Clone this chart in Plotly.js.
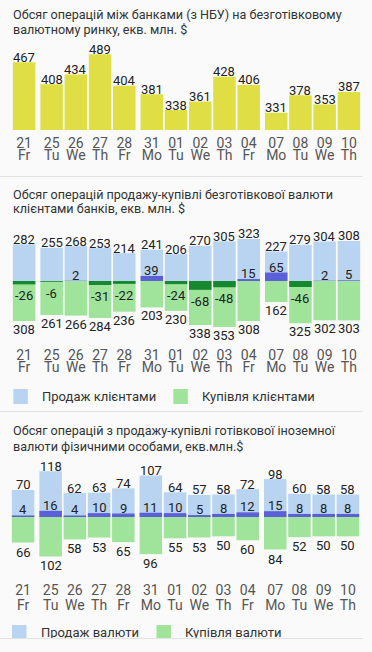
<!DOCTYPE html>
<html><head><meta charset="utf-8">
<script src="https://cdn.plot.ly/plotly-3.0.1.min.js"></script>
<style>
html,body{margin:0;padding:0;background:#fafafa;width:372px;height:652px;overflow:hidden;}
.panel{position:absolute;left:0;width:372px;overflow:hidden;}
#p1{top:0;height:176px;}
#p2{top:177px;height:234px;}
#p3{top:412px;height:240px;}
.sep{position:absolute;left:0;width:363px;height:1px;background:#e2e2e2;z-index:5;}
#cover{position:absolute;left:0;top:639px;width:372px;height:13px;background:#fafafa;z-index:4;}
</style></head>
<body>
<div id="p1" class="panel"></div>
<div class="sep" style="top:176px"></div>
<div id="p2" class="panel"></div>
<div class="sep" style="top:411px"></div>
<div id="p3" class="panel"></div>
<div id="cover"></div>
<div class="sep" style="top:638px"></div>
<script>
// ---- data ----
const dayNums  = ['21','25','26','27','28','31','01','02','03','04','07','08','09','10'];
const dayNames = ['Fr','Tu','We','Th','Fr','Mo','Tu','We','Th','Fr','Mo','Tu','We','Th'];
const interbank = [467,408,434,489,404,381,338,361,428,406,331,378,353,387];
const clientSale = [282,255,268,253,214,241,206,270,305,323,227,279,304,308];
const clientPurchase = [308,261,266,284,236,203,230,338,353,308,162,325,302,303];
const clientNet = [-26,-6,2,-31,-22,39,-24,-68,-48,15,65,-46,2,5];
const cashSale = [70,118,62,63,74,107,64,57,58,72,98,60,58,58];
const cashPurchase = [66,102,58,53,65,96,55,53,50,60,84,52,50,50];
const cashNet = [4,16,4,10,9,11,10,5,8,12,15,8,8,8];
const titles1 = ['Обсяг операцій між банками (з НБУ) на безготівковому','валютному ринку, екв. млн. $'];
const titles2 = ['Обсяг операцій продажу-купівлі безготівкової валюти','клієнтами банків, екв. млн. $'];
const titles3 = ['Обсяг операцій з продажу-купівлі готівкової іноземної','валюти фізичними особами, екв.млн.$'];
const clientLegend = ['Продаж клієнтами','Купівля клієнтами'];
const cashLegend = ['Продаж валюти','Купівля валюти'];

// ---- style ----
const W = 372;
const WEEK_GAP = 0.137, BAR_W = 0.93;
const FONT = 'Roboto, "Noto Sans", sans-serif';
const C = {inter:'#dfdf45', sale:'#b9d4f1', purchase:'#a0e49b', netPos:'#5b5fd8', netNeg:'#16892e',
           text:'#222222', tick:'#555555', title:'#333333'};
const TITLE_SIZE = 12.6, LEGEND_SIZE = 13;

// x positions: extra gap between weeks (derived from weekday order)
const ord = {Mo:0,Tu:1,We:2,Th:3,Fr:4,Sa:5,Su:6};
const xPos = []; let wk = 0;
dayNames.forEach((d,i)=>{ if(i>0 && ord[d] <= ord[dayNames[i-1]]) wk++; xPos.push(i + WEEK_GAP*wk); });
const xRange = [-0.5, xPos[xPos.length-1] + 0.5];

function baseLayout(H, m, yrange, titles, tY1, tY2, numLen, nameLen) {
  const pw = W - m.l - m.r, ph = H - m.t - m.b;
  const px = x => (x - m.l)/pw, py = y => (H - m.b - y)/ph;
  const ax = {range:xRange, showgrid:false, zeroline:false, showline:false, ticks:'outside',
              tickcolor:'rgba(0,0,0,0)', tickvals:xPos, fixedrange:true};
  return {
    px, py,
    layout: {
      width:W, height:H, margin:m, paper_bgcolor:'rgba(0,0,0,0)', plot_bgcolor:'rgba(0,0,0,0)',
      font:{family:FONT, color:C.text},
      showlegend:false, barmode:'overlay', hovermode:false,
      title:{text:titles[0], x:13/W, xanchor:'left', xref:'container', yref:'container',
             y:1 - tY1/H, yanchor:'middle', font:{family:FONT, size:TITLE_SIZE, color:C.title}},
      xaxis:Object.assign({}, ax, {ticktext:dayNums, ticklen:numLen, tickfont:{family:FONT,size:14,color:C.tick}}),
      xaxis2:Object.assign({}, ax, {ticktext:dayNames, overlaying:'x', anchor:'y', side:'bottom', ticklen:nameLen,
              tickfont:{family:FONT,size:14,color:C.tick}}),
      yaxis:{range:yrange, visible:false, fixedrange:true},
      annotations:[{text:titles[1], xref:'paper', yref:'paper', x:px(10.5), y:py(tY2), xanchor:'left',
                    yanchor:'middle', showarrow:false, font:{family:FONT,size:TITLE_SIZE,color:C.title}}],
      shapes:[]
    }
  };
}
function lbl(x, y, text, anchor, shift) {
  return {x, y, text:String(text), xref:'x', yref:'y', showarrow:false, yanchor:anchor, yshift:shift,
          font:{family:FONT, size:13, color:C.text}};
}
const dummy = {type:'scatter', x:[], y:[], xaxis:'x2', yaxis:'y', hoverinfo:'skip', showlegend:false};
const cfg = {staticPlot:true, displayModeBar:false};

// ---- panel 1 ----
(function(){
  const H = 176, m = {l:12, r:11, t:40, b:46};
  const {layout} = baseLayout(H, m, [284, 527.5], titles1, 15, 29.3, 0, 12.5);
  interbank.forEach((v,i)=>layout.annotations.push(lbl(xPos[i], v, v, 'bottom', -4.5)));
  Plotly.newPlot('p1', [
    {type:'bar', x:xPos, y:interbank, width:BAR_W, marker:{color:C.inter}, name:'interbank'},
    dummy
  ], layout, cfg);
})();

function twoSided(id, H, m, yrange, titles, tY1, tY2, numLen, nameLen, sale, purchase, net, legend, leg, shifts) {
  const {layout, px, py} = baseLayout(H, m, yrange, titles, tY1, tY2, numLen, nameLen);
  sale.forEach((v,i)=>layout.annotations.push(lbl(xPos[i], v, v, 'bottom', shifts.sale)));
  purchase.forEach((v,i)=>layout.annotations.push(lbl(xPos[i], -v, v, 'top', shifts.purchase)));
  net.forEach((v,i)=>layout.annotations.push(
      v < 0 ? lbl(xPos[i], v, v, 'top', shifts.netNeg) : lbl(xPos[i], v, v, 'bottom', shifts.netPos)));
  // legend (drawn as shapes + text)
  const cols = [C.sale, C.purchase];
  legend.forEach((name,k)=>{
    layout.shapes.push({type:'rect', xref:'paper', yref:'paper', x0:px(leg.sq[k][0]), x1:px(leg.sq[k][1]),
      y0:py(leg.y0), y1:py(leg.y1), fillcolor:cols[k], line:{width:0}, layer:'above'});
    layout.annotations.push({text:name, xref:'paper', yref:'paper', x:px(leg.tx[k]), y:py(leg.ty),
      xanchor:'left', yanchor:'middle', showarrow:false, font:{family:FONT,size:LEGEND_SIZE,color:C.title}});
  });
  Plotly.newPlot(id, [
    {type:'bar', x:xPos, y:sale, width:BAR_W, marker:{color:C.sale}, name:legend[0]},
    {type:'bar', x:xPos, y:purchase.map(v=>-v), width:BAR_W, marker:{color:C.purchase}, name:legend[1]},
    {type:'bar', x:xPos, y:net, width:BAR_W, marker:{color:net.map(v=>v<0?C.netNeg:C.netPos)}, name:'net'},
    dummy
  ], layout, cfg);
}

// ---- panel 2 ----
twoSided('p2', 234, {l:12, r:11, t:43, b:69}, [-469, 469], titles2, 18, 31.3, 0, 12.5,
  clientSale, clientPurchase, clientNet, clientLegend,
  {sq:[[13.3,27.8],[173.3,187.8]], y0:212, y1:227, tx:[40,200], ty:219},
  {sale:-4.5, purchase:1, netNeg:-2, netPos:-4});

// ---- panel 3 ----
twoSided('p3', 240, {l:11, r:12, t:48, b:75}, [-155, 147.3], titles3, 19, 34.7, 0, 15,
  cashSale, cashPurchase, cashNet, cashLegend,
  {sq:[[12,26.5],[156.5,171]], y0:213, y1:228, tx:[39,183], ty:220},
  {sale:-4.5, purchase:0, netNeg:-2, netPos:-4});
</script>
</body></html>
